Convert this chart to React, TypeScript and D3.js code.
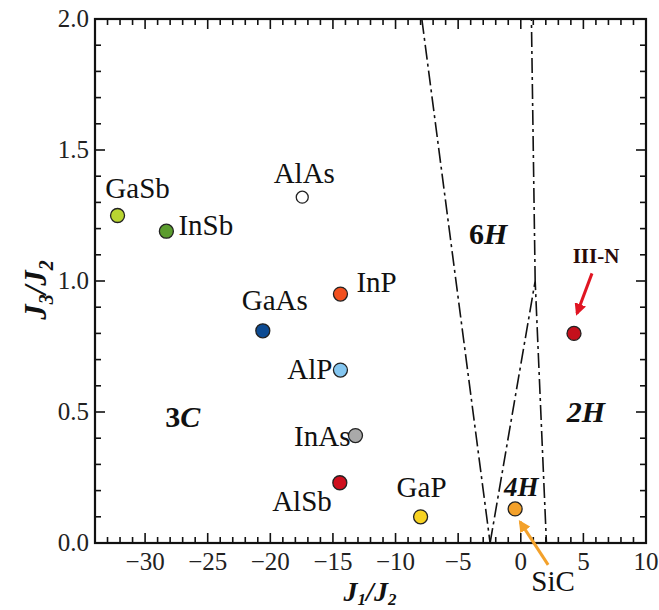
import React from "react";
import * as d3 from "d3";

const W = 659;
const H = 610;

// ---- data ----
const materials = ["GaSb", "InSb", "AlAs", "InP", "GaAs", "AlP", "InAs", "AlSb", "GaP", "SiC", "III-N"];
const j1j2 = [-32.2, -28.3, -17.45, -14.4, -20.6, -14.4, -13.2, -14.45, -8.0, -0.45, 4.25];
const j3j2 = [1.25, 1.19, 1.32, 0.95, 0.81, 0.66, 0.41, 0.23, 0.10, 0.13, 0.80];
const xTicks = [-30, -25, -20, -15, -10, -5, 0, 5, 10];
const yTicks = [0.0, 0.5, 1.0, 1.5, 2.0];
const boundaryA = [[-7.9, 2.0], [-2.45, 0.0]];
const boundaryB = [[-2.45, 0.0], [1.15, 1.0], [2.05, 0.0]];
const boundaryC = [[1.15, 1.0], [0.85, 2.0]];
const phaseNames = ["3", "6", "2"];
const phaseX = [-27, -2.6, 5.2];
const phaseY = [0.48, 1.18, 0.5];

// ---- styles ----
const dotColors: Record<string, string> = {
  GaSb: "#b9d531",
  InSb: "#5b9c2e",
  AlAs: "#ffffff",
  InP: "#f2501f",
  GaAs: "#0d4b93",
  AlP: "#84c6f0",
  InAs: "#a9a9a9",
  AlSb: "#cf0f1d",
  GaP: "#f8d322",
  SiC: "#f3a12b",
  "III-N": "#c5101c",
};
// label placement relative to dot: [dx, dy(baseline), anchor]
const labelPos: Record<string, [number, number, string]> = {
  GaSb: [20, -18, "middle"],
  InSb: [12, 4, "start"],
  AlAs: [2, -14, "middle"],
  InP: [16, -2, "start"],
  GaAs: [12, -21, "middle"],
  AlP: [-8, 9, "end"],
  InAs: [-5, 10, "end"],
  AlSb: [-8, 28, "end"],
  GaP: [1, -20, "middle"],
  SiC: [38, 82, "middle"],
};

const m = { left: 95, right: 646, top: 19, bottom: 543 };
const serif = "'Liberation Serif', 'Times New Roman', serif";

export default function App() {
  const x = d3.scaleLinear().domain([-34, 10]).range([m.left, m.right]);
  const y = d3.scaleLinear().domain([0, 2]).range([m.bottom, m.top]);
  const line = d3
    .line<number[]>()
    .x((d) => x(d[0]))
    .y((d) => y(d[1]));

  const xMinor = d3.range(-34, 10.001, 1);
  const yMinor = d3.range(0, 20.001, 1).map((k) => k / 10);

  const idx = (n: string) => materials.indexOf(n);
  const sic = idx("SiC");
  const sx = x(j1j2[sic]);
  const sy = y(j3j2[sic]);
  const iii = idx("III-N");
  const nx = x(j1j2[iii]);
  const ny = y(j3j2[iii]);

  return (
    <svg
      width={W}
      height={H}
      style={{ position: "absolute", left: 0, top: 0, background: "#fff" }}
      fontFamily={serif}
    >
      <defs>
        <marker id="redHead" viewBox="0 0 10 10" refX="8" refY="5" markerWidth="4" markerHeight="4" orient="auto">
          <path d="M0,0 L10,5 L0,10 z" fill="#e01522" />
        </marker>
        <marker id="orangeHead" viewBox="0 0 10 10" refX="8" refY="5" markerWidth="4" markerHeight="4" orient="auto">
          <path d="M0,0 L10,5 L0,10 z" fill="#f3a12b" />
        </marker>
      </defs>

      {/* minor and major ticks, all four sides, inward */}
      {xMinor.map((v) => {
        const major = Math.abs(v % 5) < 1e-6;
        const len = major ? 10 : 6;
        return (
          <g key={"xt" + v} stroke="#111" strokeWidth={1.6}>
            <line x1={x(v)} x2={x(v)} y1={m.bottom} y2={m.bottom - len} />
            <line x1={x(v)} x2={x(v)} y1={m.top} y2={m.top + len} />
          </g>
        );
      })}
      {yMinor.map((v, k) => {
        const major = k % 5 === 0;
        const len = major ? 10 : 6;
        return (
          <g key={"yt" + k} stroke="#111" strokeWidth={1.6}>
            <line x1={m.left} x2={m.left + len} y1={y(v)} y2={y(v)} />
            <line x1={m.right} x2={m.right - len} y1={y(v)} y2={y(v)} />
          </g>
        );
      })}

      {/* phase boundaries */}
      {[boundaryA, boundaryB, boundaryC].map((b, i) => (
        <path
          key={"b" + i}
          d={line(b) || ""}
          fill="none"
          stroke="#111"
          strokeWidth={1.6}
          strokeDasharray="15,4,3,4"
        />
      ))}

      {/* frame */}
      <rect
        x={m.left}
        y={m.top}
        width={m.right - m.left}
        height={m.bottom - m.top}
        fill="none"
        stroke="#111"
        strokeWidth={2.2}
      />

      {/* tick labels */}
      {xTicks.map((v) => (
        <text key={"xl" + v} x={x(v)} y={570} textAnchor="middle" fontSize={25} fill="#222">
          {v < 0 ? "\u2212" + Math.abs(v) : String(v)}
        </text>
      ))}
      {yTicks.map((v) => (
        <text key={"yl" + v} x={89} y={y(v) + 8} textAnchor="end" fontSize={25} fill="#222">
          {v.toFixed(1)}
        </text>
      ))}

      {/* axis titles */}
      <text x={370} y={601} textAnchor="middle" fontSize={28} fontWeight="bold" fontStyle="italic" fill="#111">
        J<tspan fontSize={17} dy={4}>1</tspan>
        <tspan dy={-4}>/J</tspan>
        <tspan fontSize={17} dy={4}>2</tspan>
      </text>
      <text
        transform="translate(46,290) rotate(-90)"
        textAnchor="middle"
        fontSize={31}
        fontWeight="bold"
        fontStyle="italic"
        fill="#111"
      >
        J<tspan fontSize={20} dy={7}>3</tspan>
        <tspan dy={-7}>/J</tspan>
        <tspan fontSize={20} dy={7}>2</tspan>
      </text>

      {/* phase labels */}
      <text x={x(phaseX[0])} y={y(phaseY[0]) + 10} textAnchor="middle" fontSize={30} fontWeight="bold" fill="#111">
        {phaseNames[0]}
        <tspan fontStyle="italic">C</tspan>
      </text>
      <text x={x(phaseX[1])} y={y(phaseY[1]) + 10} textAnchor="middle" fontSize={30} fontWeight="bold" fill="#111">
        {phaseNames[1]}
        <tspan fontStyle="italic">H</tspan>
      </text>
      <text
        x={x(phaseX[2])}
        y={y(phaseY[2]) + 10}
        textAnchor="middle"
        fontSize={30}
        fontWeight="bold"
        fontStyle="italic"
        fill="#111"
      >
        {phaseNames[2]}H
      </text>
      <text x={sx + 6} y={sy - 13} textAnchor="middle" fontSize={27} fontWeight="bold" fontStyle="italic" fill="#111">
        4H
      </text>

      {/* arrows */}
      <line
        x1={nx + 18}
        y1={ny - 60}
        x2={nx + 3}
        y2={ny - 20}
        stroke="#e01522"
        strokeWidth={3}
        markerEnd="url(#redHead)"
      />
      <line
        x1={sx + 33}
        y1={sy + 56}
        x2={sx + 5}
        y2={sy + 13}
        stroke="#f3a12b"
        strokeWidth={3}
        markerEnd="url(#orangeHead)"
      />

      {/* points */}
      {materials.map((n, i) => (
        <circle
          key={n}
          cx={x(j1j2[i])}
          cy={y(j3j2[i])}
          r={n === "AlAs" ? 6 : 7}
          fill={dotColors[n]}
          stroke="#222"
          strokeWidth={1.3}
        />
      ))}

      {/* point labels */}
      {materials
        .filter((n) => labelPos[n])
        .map((n) => {
          const i = idx(n);
          const [dx, dy, anchor] = labelPos[n];
          return (
            <text
              key={"l" + n}
              x={x(j1j2[i]) + dx}
              y={y(j3j2[i]) + dy}
              textAnchor={anchor as any}
              fontSize={29}
              fill="#111"
            >
              {n}
            </text>
          );
        })}
      <text x={nx + 22} y={ny - 70} textAnchor="middle" fontSize={21} fontWeight="bold" fill="#2a0a0a">
        III-N
      </text>
    </svg>
  );
}
